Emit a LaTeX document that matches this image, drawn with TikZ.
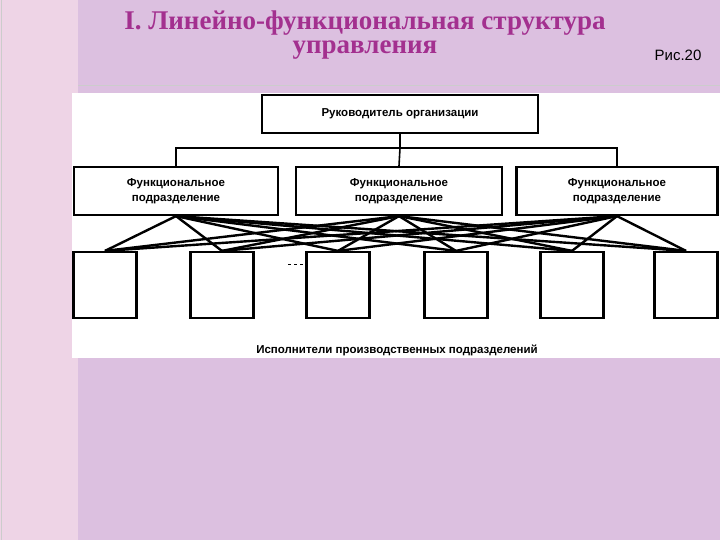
\documentclass[tikz,border=0pt]{standalone}
\usepackage{fontspec}
\setmainfont{Liberation Sans}
\newfontfamily\serifb{Liberation Serif}
\definecolor{bg}{HTML}{DCC0E0}
\definecolor{strip}{HTML}{EED4E6}
\definecolor{ttl}{HTML}{A3308F}
\begin{document}
\begin{tikzpicture}[x=1pt,y=-1pt,
  box/.style={draw,line width=2.2pt,fill=white,inner sep=0pt,align=center,font=\bfseries\fontsize{11.5}{15}\selectfont},
  ln/.style={line width=2.4pt},
  ttlst/.style={font=\serifb\bfseries\fontsize{27}{24}\selectfont,text=ttl,inner sep=0pt,align=center}]
\useasboundingbox (0,0) rectangle (720,540);
\fill[bg] (0,0) rectangle (720,540);
\fill[strip] (0,0) rectangle (78,540);
\draw[gray!40] (1,0) -- (1,540);
\draw[gray!40,line width=1pt] (78,86) -- (720,86);
\fill[white] (72,93) rectangle (720,358);
\node[ttlst] (t1) at (365,35) {I. Линейно-функциональная структура\\управления};
\node[font=\fontsize{15}{16}\selectfont] (ris) at (678,55) {Рис.20};
\node[box,minimum width=276,minimum height=38] (top) at (400,114) {Руководитель организации};
\node[box,minimum width=204,minimum height=48] (f1) at (176,191) {Функциональное\\подразделение};
\node[box,minimum width=206,minimum height=48] (f2) at (399,191) {Функциональное\\подразделение};
\node[box,minimum width=201,minimum height=48] (f3) at (617,191) {Функциональное\\подразделение};
\coordinate (bus) at (400,148);
\draw[line width=1.6pt] (top.south) -- (bus);
\draw[line width=1.6pt] (f1.north) |- (bus) -| (f3.north);
\draw[line width=1.6pt] (bus) -- (f2.north);
\foreach \n/\x in {b1/105,b2/222,b3/338,b4/456,b5/572,b6/686}
  \node[box,minimum width=63,minimum height=66] (\n) at (\x,285) {};
\foreach \f in {f1,f2,f3}
  \foreach \n in {b1,b2,b3,b4,b5,b6}
    \draw[ln] (\f.south) -- (\n.north);
\draw[dashed] (288,264) -- (306,264);
\node[font=\bfseries\fontsize{11.5}{12}\selectfont] (cap) at (397,350) {Исполнители производственных подразделений};
\end{tikzpicture}
\end{document}
